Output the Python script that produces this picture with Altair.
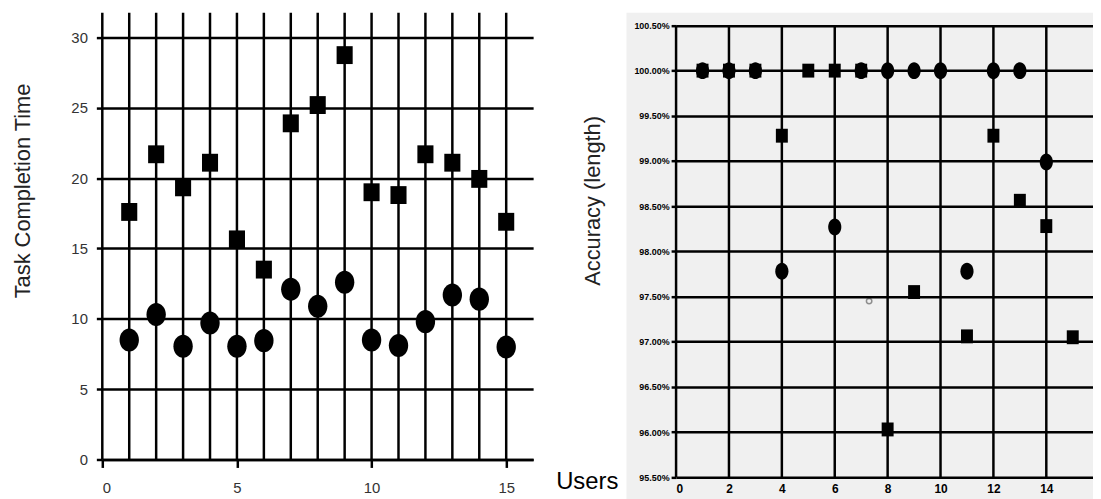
import altair as alt
import pandas as pd

# ---------------- data ----------------
users = list(range(1, 16))
time_square = [17.6, 21.7, 19.35, 21.1, 15.65, 13.5, 23.9, 25.2, 28.75, 19.0, 18.8, 21.7, 21.1, 19.95, 16.9]
time_circle = [8.5, 10.3, 8.05, 9.7, 8.05, 8.45, 12.1, 10.9, 12.6, 8.5, 8.1, 9.8, 11.7, 11.4, 8.0]

acc_square = [100.0, 100.0, 100.0, 99.28, 100.0, 100.0, 100.0, 96.03, 97.55, None, 97.06, 99.28, 98.56, 98.28, 97.05]
acc_circle = [100.0, 100.0, 100.0, 97.78, None, 98.27, 100.0, 100.0, 100.0, 100.0, 97.78, 100.0, 100.0, 98.99, None]
stray_x = [7.3]
stray_y = [97.45]

left_grid_x = list(range(0, 16))
left_x_ticks = [0, 5, 10, 15]
left_y_ticks = [0, 5, 10, 15, 20, 25, 30]
right_grid_x = [0, 2, 4, 6, 8, 10, 12, 14]
right_y_ticks = [95.5, 96.0, 96.5, 97.0, 97.5, 98.0, 98.5, 99.0, 99.5, 100.0, 100.5]

# ---------------- shapes ----------------
SQ_L = "M-0.9,-1L0.9,-1L0.9,1L-0.9,1Z"
EL_L = "M0,-1A0.84,1 0 1,1 0,1A0.84,1 0 1,1 0,-1Z"
SQ_R = "M-0.86,-1L0.86,-1L0.86,1L-0.86,1Z"
EL_R = "M0,-1A0.78,1 0 1,1 0,1A0.78,1 0 1,1 0,-1Z"

FONT = "Liberation Sans"

# ---------------- left chart ----------------
W1, H1 = 434, 450
xL_scale = alt.Scale(domain=[0, 16], nice=False, zero=False)
yL_scale = alt.Scale(domain=[0, 31.76], nice=False, zero=False)
xL_axis = alt.Axis(values=left_x_ticks, grid=False, domain=True, domainColor="black", domainWidth=2.5,
                   ticks=True, tickSize=8, tickWidth=2.5, tickColor="black",
                   labelFontSize=15, labelColor="#333", labelPadding=13, labelFont=FONT,
                   title="Users", titleX=488, titleY=22, titleAlign="center", titleBaseline="middle",
                   titleFontSize=24, titleFontWeight="normal", titleFont=FONT, titleColor="black")
yL_axis = alt.Axis(values=left_y_ticks, grid=True, gridColor="black", gridWidth=2.5, gridOpacity=1,
                   domain=False, ticks=True, tickSize=6, tickWidth=2.5, tickColor="black",
                   labelFontSize=15, labelColor="#333", labelPadding=9, labelFont=FONT,
                   title="Task Completion Time", titleX=-80, titleY=179, titleAngle=-90,
                   titleAlign="center", titleBaseline="middle", titleFontSize=22,
                   titleFontWeight="normal", titleFont=FONT, titleColor="#222")

df_vl = pd.DataFrame({"x": left_grid_x})
df_ls = pd.DataFrame({"x": users, "y": time_square})
df_lc = pd.DataFrame({"x": users, "y": time_circle})

vlines_L = alt.Chart(df_vl).mark_rule(color="black", strokeWidth=2.5).encode(
    x=alt.X("x:Q", scale=xL_scale, axis=xL_axis))
circ_L = alt.Chart(df_lc).mark_point(shape=EL_L, size=540, filled=True, color="black", opacity=1).encode(
    x=alt.X("x:Q", scale=xL_scale, axis=xL_axis), y=alt.Y("y:Q", scale=yL_scale, axis=yL_axis))
sq_L = alt.Chart(df_ls).mark_point(shape=SQ_L, size=324, filled=True, color="black", opacity=1).encode(
    x=alt.X("x:Q", scale=xL_scale, axis=xL_axis), y=alt.Y("y:Q", scale=yL_scale, axis=yL_axis))

left = alt.layer(vlines_L, circ_L, sq_L).properties(width=W1, height=H1)

# ---------------- right chart ----------------
W2, H2 = 420, 468
xR_scale = alt.Scale(domain=[0, 420 / 26.64], nice=False, zero=False)
yR_scale = alt.Scale(domain=[95.5, 100.64], nice=False, zero=False)
xR_axis = alt.Axis(values=right_grid_x, grid=False, domain=False, ticks=False, zindex=2,
                   labelFontSize=12, labelFontWeight="bold", labelPadding=6, labelFont=FONT,
                   labelColor="black", title=None)
yR_axis = alt.Axis(values=right_y_ticks, grid=True, gridColor="black", gridWidth=2.5, gridOpacity=1,
                   domain=False, ticks=True, tickSize=5, tickWidth=2.5, tickColor="black", zindex=1,
                   labelExpr="format(datum.value, '.2f') + '%'",
                   labelFontSize=9, labelFontWeight="bold", labelPadding=2, labelFont=FONT,
                   labelColor="black",
                   title="Accuracy (length)", titleX=-84, titleY=189, titleAngle=-90,
                   titleAlign="center", titleBaseline="middle", titleFontSize=22,
                   titleFontWeight="normal", titleFont=FONT, titleColor="#222")

df_bg = pd.DataFrame({"k": [0]})
df_vr = pd.DataFrame({"x": right_grid_x, "y0": [95.5] * len(right_grid_x), "y1": [100.5] * len(right_grid_x)})
df_rs = pd.DataFrame({"x": users, "y": acc_square}).dropna()
df_rc = pd.DataFrame({"x": users, "y": acc_circle}).dropna()
df_st = pd.DataFrame({"x": stray_x, "y": stray_y})

bg_R = alt.Chart(df_bg).mark_rect(color="#f0f0f0").encode(
    x=alt.value(-50), x2=alt.value(W2), y=alt.value(0), y2=alt.value(H2 + 22))
vlines_R = alt.Chart(df_vr).mark_rule(color="black", strokeWidth=2.5).encode(
    x=alt.X("x:Q", scale=xR_scale, axis=xR_axis),
    y=alt.Y("y0:Q", scale=yR_scale, axis=yR_axis), y2="y1:Q")
sq_R = alt.Chart(df_rs).mark_point(shape=SQ_R, size=196, filled=True, color="black", opacity=1).encode(
    x=alt.X("x:Q", scale=xR_scale, axis=xR_axis), y=alt.Y("y:Q", scale=yR_scale, axis=yR_axis))
circ_R = alt.Chart(df_rc).mark_point(shape=EL_R, size=289, filled=True, color="black", opacity=1).encode(
    x=alt.X("x:Q", scale=xR_scale, axis=xR_axis), y=alt.Y("y:Q", scale=yR_scale, axis=yR_axis))
st_R = alt.Chart(df_st).mark_point(shape="circle", size=30, filled=False, color="#666", strokeWidth=1.5).encode(
    x=alt.X("x:Q", scale=xR_scale, axis=xR_axis), y=alt.Y("y:Q", scale=yR_scale, axis=yR_axis))

right = alt.layer(bg_R, vlines_R, sq_R, circ_R, st_R).properties(width=W2, height=H2)

chart = alt.hconcat(left, right, spacing=144, bounds="flush").properties(
    padding={"left": 4, "top": 1, "right": 0, "bottom": 0}
).configure_view(stroke=None)

chart.save("out.html", embed_options={"renderer": "svg", "actions": False})
